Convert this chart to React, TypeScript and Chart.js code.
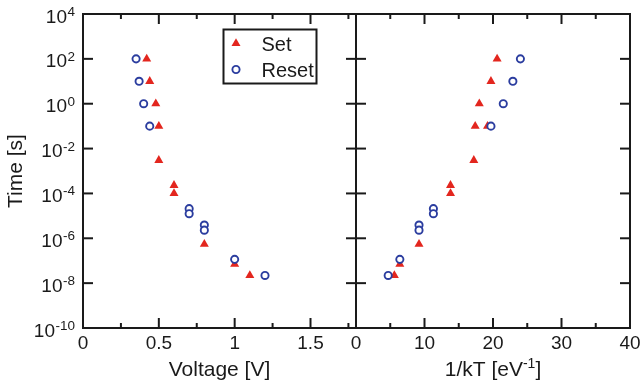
import React, { useEffect, useRef } from "react";
import { Chart, registerables } from "chart.js";

Chart.register(...registerables);

// ---- data ----
const seriesLabels = ["Set", "Reset"];
const yTitle = "Time [s]";
const voltageTitle = ["Voltage [V]", "", ""];
const invKTTitle = ["1/kT [eV", "-1", "]"];

const setVoltage = [0.42, 0.44, 0.48, 0.5, 0.5, 0.6, 0.6, 0.8, 1.0, 1.1];
const setTimeV = [100, 10, 1, 0.1, 3e-3, 2.3e-4, 1e-4, 5.5e-7, 7e-8, 2.2e-8];
const resetVoltage = [0.35, 0.37, 0.4, 0.44, 0.7, 0.7, 0.8, 0.8, 1.0, 1.2];
const resetTimeV = [100, 10, 1, 0.1, 2.1e-5, 1.25e-5, 3.9e-6, 2.3e-6, 1.15e-7, 2.2e-8];

const setInvKT = [20.6, 19.7, 18.0, 17.4, 19.2, 17.2, 13.8, 13.8, 9.2, 6.4, 5.6];
const setTimeK = [100, 10, 1, 0.1, 0.1, 3e-3, 2.3e-4, 1e-4, 5.5e-7, 7e-8, 2.2e-8];
const resetInvKT = [24.0, 22.9, 21.5, 19.7, 11.3, 11.3, 9.2, 9.2, 6.4, 4.7];
const resetTimeK = [100, 10, 1, 0.1, 2.1e-5, 1.25e-5, 3.9e-6, 2.3e-6, 1.15e-7, 2.2e-8];

const yTickExponents = [-10, -8, -6, -4, -2, 0, 2, 4];
const voltageMajorTicks = [0, 0.5, 1, 1.5];
const voltageMinorTicks = [0.25, 0.75, 1.25, 1.75];
const invKTMajorTicks = [0, 10, 20, 30, 40];
const invKTMinorTicks = [5, 15, 25, 35];

// ---- styles ----
const RED = "#e3261e";
const BLUE = "#2b3d9f";
const INK = "#1a1a1a";
const FONT = "'Liberation Sans', Arial, Helvetica, sans-serif";

function framePlugin(o: any) {
  return {
    id: "frame",
    afterDraw(chart: any) {
      const { ctx, chartArea: a, scales } = chart;
      const xs = scales.x;
      const ys = scales.y;
      ctx.save();
      ctx.strokeStyle = INK;
      ctx.lineWidth = 2;
      ctx.lineCap = "butt";
      ctx.strokeRect(a.left, a.top, a.right - a.left, a.bottom - a.top);
      const seg = (x1: number, y1: number, x2: number, y2: number) => {
        ctx.beginPath();
        ctx.moveTo(x1, y1);
        ctx.lineTo(x2, y2);
        ctx.stroke();
      };
      o.majorX.forEach((v: number) => {
        const px = xs.getPixelForValue(v);
        seg(px, a.bottom, px, a.bottom - 10);
        seg(px, a.top, px, a.top + 10);
      });
      o.minorX.forEach((v: number) => {
        const px = xs.getPixelForValue(v);
        seg(px, a.bottom, px, a.bottom - 5);
        seg(px, a.top, px, a.top + 5);
      });
      yTickExponents.forEach((e) => {
        const py = ys.getPixelForValue(Math.pow(10, e));
        seg(a.left, py, a.left + 10, py);
        seg(a.right, py, a.right - 10, py);
      });

      ctx.fillStyle = INK;
      ctx.textBaseline = "alphabetic";

      // x tick labels
      ctx.font = `19px ${FONT}`;
      ctx.textAlign = "center";
      o.majorX.forEach((v: number) => {
        ctx.fillText(String(v), xs.getPixelForValue(v), a.bottom + 20.5);
      });

      // x title (main text, superscript, closing text)
      const [t0, tSup, t1] = o.xTitle;
      ctx.textAlign = "left";
      ctx.font = `21px ${FONT}`;
      const w0 = ctx.measureText(t0).width;
      const w1 = t1 ? ctx.measureText(t1).width : 0;
      ctx.font = `14px ${FONT}`;
      const ws = tSup ? ctx.measureText(tSup).width : 0;
      const total = w0 + ws + w1;
      const cx = (a.left + a.right) / 2;
      let tx = cx - total / 2;
      const base = a.bottom + 48;
      ctx.font = `21px ${FONT}`;
      ctx.fillText(t0, tx, base);
      tx += w0;
      if (tSup) {
        ctx.font = `14px ${FONT}`;
        ctx.fillText(tSup, tx, base - 8);
        tx += ws;
      }
      if (t1) {
        ctx.font = `21px ${FONT}`;
        ctx.fillText(t1, tx, base);
      }

      if (o.yLabels) {
        ctx.textAlign = "left";
        const rightEdge = a.left - 8;
        yTickExponents.forEach((e) => {
          const py = ys.getPixelForValue(Math.pow(10, e));
          const expText = String(e);
          ctx.font = `13.5px ${FONT}`;
          const ew = ctx.measureText(expText).width;
          const ex = rightEdge - ew;
          ctx.fillText(expText, ex, py + 2);
          ctx.font = `19px ${FONT}`;
          const bw = ctx.measureText("10").width;
          ctx.fillText("10", ex - bw - 0.5, py + 8.5);
        });
        ctx.save();
        ctx.translate(22, (a.top + a.bottom) / 2);
        ctx.rotate(-Math.PI / 2);
        ctx.font = `21px ${FONT}`;
        ctx.textAlign = "center";
        ctx.fillText(yTitle, 0, 0);
        ctx.restore();
      }

      if (o.legend) {
        const bx = 223.5, by = 29.5, bw = 93, bh = 54;
        ctx.lineWidth = 2;
        ctx.strokeStyle = INK;
        ctx.strokeRect(bx, by, bw, bh);
        const ds = chart.data.datasets;
        const rows = [43.5, 69.5];
        ds.forEach((d: any, i: number) => {
          const cy = rows[i];
          const mx = 236;
          if (d.pointStyle === "triangle") {
            const r = d.pointRadius;
            ctx.beginPath();
            ctx.moveTo(mx, cy - r);
            ctx.lineTo(mx + r * Math.sin((2 * Math.PI) / 3), cy - r * Math.cos((2 * Math.PI) / 3));
            ctx.lineTo(mx + r * Math.sin((4 * Math.PI) / 3), cy - r * Math.cos((4 * Math.PI) / 3));
            ctx.closePath();
            ctx.fillStyle = d.pointBackgroundColor;
            ctx.fill();
          } else {
            ctx.beginPath();
            ctx.arc(mx, cy, d.pointRadius, 0, Math.PI * 2);
            ctx.fillStyle = d.pointBackgroundColor;
            ctx.fill();
            ctx.lineWidth = d.pointBorderWidth;
            ctx.strokeStyle = d.pointBorderColor;
            ctx.stroke();
          }
          ctx.fillStyle = INK;
          ctx.font = `20px ${FONT}`;
          ctx.textAlign = "left";
          ctx.fillText(d.label, 261.5, cy + 7);
        });
      }
      ctx.restore();
    },
  };
}

function buildConfig(p: any): any {
  return {
    type: "scatter",
    data: {
      datasets: [
        {
          label: seriesLabels[0],
          data: p.setX.map((x: number, i: number) => ({ x, y: p.setY[i] })),
          pointStyle: "triangle",
          pointRadius: 5.2,
          pointBackgroundColor: RED,
          pointBorderColor: RED,
          pointBorderWidth: 0,
          order: 2,
        },
        {
          label: seriesLabels[1],
          data: p.resetX.map((x: number, i: number) => ({ x, y: p.resetY[i] })),
          pointStyle: "circle",
          pointRadius: 3.6,
          pointBackgroundColor: "#ffffff",
          pointBorderColor: BLUE,
          pointBorderWidth: 1.9,
          order: 1,
        },
      ],
    },
    options: {
      responsive: false,
      animation: false,
      devicePixelRatio: 1,
      events: [],
      layout: { padding: { top: 14, left: p.padLeft, right: p.padRight, bottom: 59 } },
      plugins: { legend: { display: false }, tooltip: { enabled: false } },
      scales: {
        x: { type: "linear", position: "bottom", min: p.xMin, max: p.xMax, display: false },
        y: { type: "logarithmic", position: "left", min: 1e-10, max: 1e4, display: false },
      },
    },
    plugins: [
      framePlugin({
        majorX: p.majorX,
        minorX: p.minorX,
        xTitle: p.xTitle,
        yLabels: p.yLabels,
        legend: p.legend,
      }),
    ],
  };
}

export default function App() {
  const leftRef = useRef<HTMLCanvasElement>(null);
  const rightRef = useRef<HTMLCanvasElement>(null);

  useEffect(() => {
    const c1 = new Chart(
      leftRef.current as HTMLCanvasElement,
      buildConfig({
        setX: setVoltage,
        setY: setTimeV,
        resetX: resetVoltage,
        resetY: resetTimeV,
        xMin: 0,
        xMax: 1.8,
        majorX: voltageMajorTicks,
        minorX: voltageMinorTicks,
        xTitle: voltageTitle,
        yLabels: true,
        legend: true,
        padLeft: 83,
        padRight: 14,
      })
    );
    const c2 = new Chart(
      rightRef.current as HTMLCanvasElement,
      buildConfig({
        setX: setInvKT,
        setY: setTimeK,
        resetX: resetInvKT,
        resetY: resetTimeK,
        xMin: 0,
        xMax: 40,
        majorX: invKTMajorTicks,
        minorX: invKTMinorTicks,
        xTitle: invKTTitle,
        yLabels: false,
        legend: false,
        padLeft: 16,
        padRight: 13,
      })
    );
    return () => {
      c1.destroy();
      c2.destroy();
    };
  }, []);

  return (
    <div
      style={{
        position: "absolute",
        left: 0,
        top: 0,
        width: 643,
        height: 387,
        background: "#ffffff",
        overflow: "hidden",
      }}
    >
      <canvas
        ref={leftRef}
        width={370}
        height={387}
        style={{ position: "absolute", left: 0, top: 0, width: 370, height: 387 }}
      />
      <canvas
        ref={rightRef}
        width={303}
        height={387}
        style={{ position: "absolute", left: 340, top: 0, width: 303, height: 387 }}
      />
    </div>
  );
}
